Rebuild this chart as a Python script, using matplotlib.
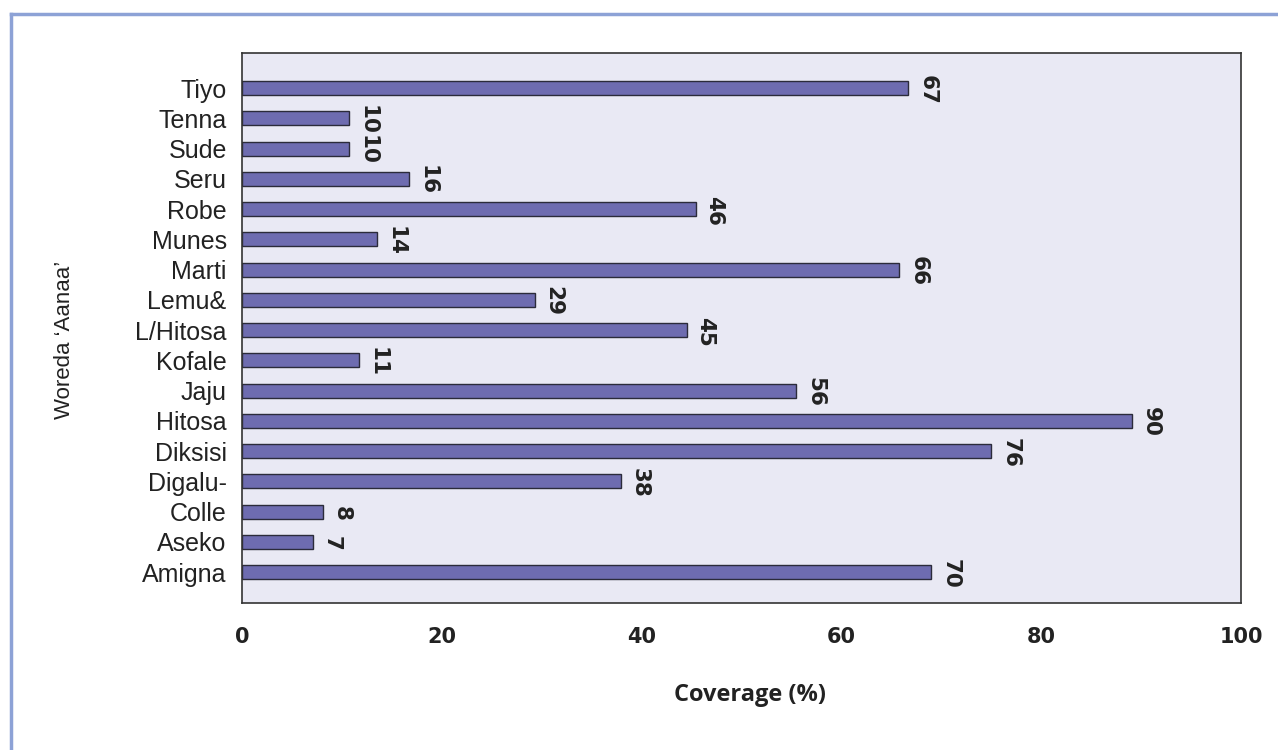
import matplotlib
matplotlib.use("Agg")
import matplotlib.pyplot as plt
from matplotlib.lines import Line2D

categories = ["Amigna", "Aseko", "Colle", "Digalu-", "Diksisi", "Hitosa", "Jaju",
              "Kofale", "L/Hitosa", "Lemu&", "Marti", "Munes", "Robe", "Seru",
              "Sude", "Tenna", "Tiyo"]
values = [69.0, 7.1, 8.1, 37.9, 75.0, 89.1, 55.5, 11.7, 44.5, 29.3, 65.8, 13.5,
          45.4, 16.7, 10.7, 10.7, 66.7]
labels = ["70", "7", "8", "38", "76", "90", "56", "11", "45", "29", "66", "14",
          "46", "16", "10", "10", "67"]
xticks = [0, 20, 40, 60, 80, 100]

W, H = 1278, 750
fig = plt.figure(figsize=(W / 100, H / 100), dpi=100)
fig.patch.set_facecolor("white")

ax = fig.add_axes([242 / W, 1 - 603 / H, (1241 - 242) / W, (603 - 53) / H])
ax.set_facecolor("#e9e9f4")

ypos = list(range(len(categories)))
ax.barh(ypos, values, height=0.46, color="#6e6cb0", edgecolor="#2b2b3a", linewidth=1.0)

for y, v, t in zip(ypos, values, labels):
    ax.text(v + 0.9, y - 0.05, t, rotation=270, ha="left", va="center",
            fontsize=15.5, fontweight="bold", color="#222222", family="DejaVu Sans")

ax.set_xlim(0, 100)
ax.set_ylim(-1.02, 17.16)
ax.set_yticks(ypos)
ax.set_yticklabels(categories, fontsize=18, family="Liberation Sans", color="#222222")
ax.set_xticks(xticks)
ax.set_xticklabels([str(x) for x in xticks], fontsize=15, fontweight="bold",
                   family="DejaVu Sans", color="#222222")
ax.tick_params(axis="both", length=0)
ax.tick_params(axis="y", pad=11)
ax.tick_params(axis="x", pad=17)
for s in ax.spines.values():
    s.set_color("#333333")
    s.set_linewidth(1.2)

fig.text(750 / W, 1 - 695 / H, "Coverage (%)", ha="center", va="center",
         fontsize=17, fontweight="bold", family="Open Sans", color="#222222")
fig.text(65 / W, 1 - 340 / H, "Woreda \u2018Aanaa\u2019", ha="center", va="center",
         rotation=90, fontsize=16, family="Liberation Sans", color="#222222")

fig.add_artist(Line2D([11 / W, 1.0], [1 - 14 / H, 1 - 14 / H], color="#8da2d6", lw=2.5,
                      transform=fig.transFigure))
fig.add_artist(Line2D([11 / W, 11 / W], [1 - 14 / H, 0], color="#8da2d6", lw=2.5,
                      transform=fig.transFigure))

fig.savefig("out.png", dpi=100, facecolor="white")
